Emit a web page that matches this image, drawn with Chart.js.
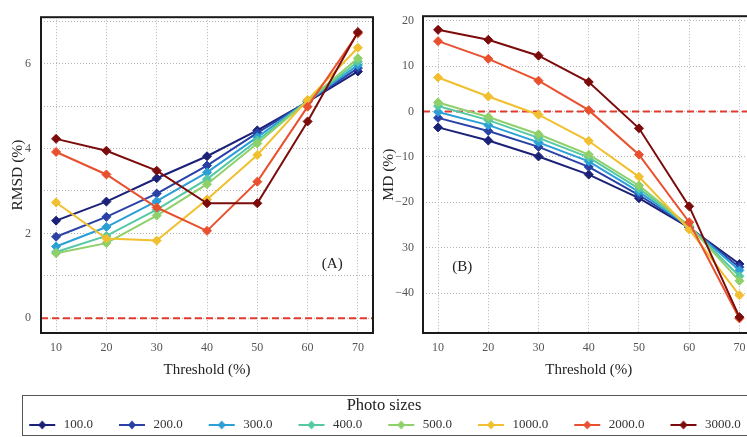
<!DOCTYPE html>
<html>
<head>
<meta charset="utf-8">
<script src="https://cdn.jsdelivr.net/npm/chart.js@4.4.1/dist/chart.umd.min.js"></script>
<style>
html,body{margin:0;padding:0;background:#fff;}
#wrap{position:relative;width:747px;height:437px;overflow:hidden;background:#fff;}
#c1{position:absolute;left:0;top:0;width:380px;height:390px;}
#c2{position:absolute;left:380px;top:0;width:380px;height:390px;}
#legbox{position:absolute;left:22px;top:395px;width:733px;height:41px;border:1px solid #555;box-sizing:border-box;}
#c3{position:absolute;left:-1px;top:395px;width:770px;height:110px;}
</style>
</head>
<body>
<div id="wrap">
<canvas id="c1" width="380" height="390"></canvas>
<canvas id="c2" width="380" height="390"></canvas>
<div id="legbox"></div>
<canvas id="c3" width="770" height="110"></canvas>
</div>
<script>
// ---------- data ----------
const thresholds = [10, 20, 30, 40, 50, 60, 70];
const photoSizes = ['100.0', '200.0', '300.0', '400.0', '500.0', '1000.0', '2000.0', '3000.0'];

// RMSD (%) per photo size
const rmsd100  = [2.30, 2.75, 3.30, 3.82, 4.43, 5.10, 5.82];
const rmsd200  = [1.92, 2.39, 2.94, 3.60, 4.37, 5.11, 5.90];
const rmsd300  = [1.69, 2.15, 2.76, 3.44, 4.27, 5.12, 5.97];
const rmsd400  = [1.56, 1.94, 2.56, 3.28, 4.19, 5.12, 6.05];
const rmsd500  = [1.53, 1.77, 2.42, 3.16, 4.12, 5.13, 6.13];
const rmsd1000 = [2.73, 1.88, 1.83, 2.80, 3.85, 5.15, 6.38];
const rmsd2000 = [3.92, 3.39, 2.61, 2.06, 3.22, 4.99, 6.72];
const rmsd3000 = [4.23, 3.95, 3.48, 2.71, 2.71, 4.64, 6.75];

// MD (%) per photo size
const md100  = [-3.5, -6.4, -9.9, -13.9, -19.1, -25.6, -33.6];
const md200  = [-1.4, -4.3, -7.8, -12.2, -18.4, -25.5, -34.3];
const md300  = [-0.1, -3.0, -6.8, -11.0, -17.7, -25.4, -35.0];
const md400  = [1.2, -1.9, -5.8, -10.1, -17.0, -25.3, -36.3];
const md500  = [2.0, -1.2, -5.0, -9.5, -16.3, -25.2, -37.3];
const md1000 = [7.5, 3.3, -0.7, -6.5, -14.4, -26.0, -40.5];
const md2000 = [15.5, 11.6, 6.8, 0.3, -9.5, -24.4, -45.6];
const md3000 = [18.0, 15.8, 12.3, 6.5, -3.7, -20.9, -45.3];

// tick labels
const xTickLabels = ['10', '20', '30', '40', '50', '60', '70'];
const leftYTickValues = [0, 2, 4, 6];
const leftYTickLabels = ['0', '2', '4', '6'];
const rightYTickValues = [-40, -30, -20, -10, 0, 10, 20];
const rightYTickLabels = ['\u221240', '30', '\u221220', '\u221210', '0', '10', '20'];

const rmsdSeries = [rmsd100, rmsd200, rmsd300, rmsd400, rmsd500, rmsd1000, rmsd2000, rmsd3000];
const mdSeries = [md100, md200, md300, md400, md500, md1000, md2000, md3000];

// ---------- styles ----------
const colors = ['#1c2178', '#2a42a6', '#2b9fd6', '#55c8a4', '#8fd06a', '#f1bf2f', '#e8502e', '#7c0b0b'];
const SERIF = '"Liberation Serif", "DejaVu Serif", serif';

const framePlugin = {
  id: 'frame',
  afterDraw(chart) {
    const {ctx, chartArea: a} = chart;
    ctx.save();
    ctx.strokeStyle = '#1a1a1a';
    ctx.lineWidth = 2;
    ctx.strokeRect(a.left, a.top, a.right - a.left, a.bottom - a.top);
    ctx.restore();
  }
};
const zeroLinePlugin = {
  id: 'zeroLine',
  beforeDatasetsDraw(chart) {
    const {ctx, chartArea: a} = chart;
    const y = chart.scales.y.getPixelForValue(0);
    ctx.save();
    ctx.strokeStyle = '#e23a2e';
    ctx.lineWidth = 2;
    ctx.setLineDash([7, 4]);
    ctx.beginPath();
    ctx.moveTo(a.left, y);
    ctx.lineTo(a.right, y);
    ctx.stroke();
    ctx.restore();
  }
};
const tagPlugin = {
  id: 'panelTag',
  afterDatasetsDraw(chart, args, opts) {
    if (!opts || !opts.text) return;
    const {ctx} = chart;
    const x = chart.scales.x.getPixelForValue(opts.x);
    const y = chart.scales.y.getPixelForValue(opts.y);
    ctx.save();
    ctx.font = '15px ' + SERIF;
    ctx.fillStyle = '#222';
    ctx.textAlign = 'center';
    ctx.textBaseline = 'middle';
    ctx.fillText(opts.text, x, y);
    ctx.restore();
  }
};

function makeDatasets(seriesList) {
  const n = seriesList.length;
  return seriesList.map((vals, i) => ({
    label: photoSizes[i],
    data: thresholds.map((t, k) => ({x: t, y: vals[k]})),
    borderColor: colors[i],
    backgroundColor: colors[i],
    borderWidth: 2,
    pointStyle: 'rectRot',
    pointRadius: 4.5,
    pointBorderWidth: 1,
    pointBackgroundColor: colors[i],
    pointBorderColor: colors[i],
    tension: 0,
    order: n - i
  }));
}

function panel(canvasId, seriesList, o) {
  return new Chart(document.getElementById(canvasId), {
    type: 'line',
    data: {datasets: makeDatasets(seriesList)},
    options: {
      responsive: false,
      animation: false,
      events: [],
      layout: {padding: {top: 7, right: o.padRight, left: 0, bottom: 0}},
      plugins: {
        legend: {display: false},
        tooltip: {enabled: false},
        panelTag: {text: o.tag, x: o.tagX, y: o.tagY}
      },
      scales: {
        x: {
          type: 'linear',
          min: 7, max: 73,
          afterFit(s) { s.height = 57; },
          grid: {color: '#b5b5b5', lineWidth: 1, drawTicks: false},
          border: {display: false, dash: [1, 2]},
          ticks: {
            stepSize: 10, includeBounds: false, padding: 8,
            color: '#555', font: {family: SERIF, size: 12},
            maxRotation: 0,
            callback: v => { const k = thresholds.indexOf(v); return k >= 0 ? xTickLabels[k] : ''; }
          },
          title: {display: true, text: 'Threshold (%)', color: '#222',
                  font: {family: SERIF, size: 15}, padding: {top: 0, bottom: 11}}
        },
        y: {
          min: o.yMin, max: o.yMax,
          afterFit(s) { s.width = o.yWidth; },
          grid: {color: '#b5b5b5', lineWidth: 1, drawTicks: false},
          border: {display: false, dash: [1, 2]},
          ticks: {
            stepSize: o.yStep, includeBounds: false, padding: o.yTickPad,
            color: '#555', font: {family: SERIF, size: 12},
            callback: v => { const k = o.yTickValues.indexOf(Math.round(v * 1000) / 1000); return k >= 0 ? o.yTickLabels[k] : ''; }
          },
          title: {display: true, text: o.yTitle, color: '#222',
                  font: {family: SERIF, size: 15.5}, padding: {top: o.yTitlePad, bottom: 0}}
        }
      }
    },
    plugins: [zeroLinePlugin, tagPlugin, framePlugin]
  });
}

panel('c1', rmsdSeries, {
  yMin: -0.35, yMax: 7.1, yStep: 1, yTickValues: leftYTickValues, yTickLabels: leftYTickLabels,
  yTitle: 'RMSD (%)', yWidth: 41, yTickPad: 10, yTitlePad: 9, padRight: 7,
  tag: '(A)', tagX: 64.9, tagY: 1.28
});
panel('c2', mdSeries, {
  yMin: -48.8, yMax: 21.0, yStep: 10, yTickValues: rightYTickValues, yTickLabels: rightYTickLabels,
  yTitle: 'MD (%)', yWidth: 43, yTickPad: 9, yTitlePad: 0, padRight: 5,
  tag: '(B)', tagX: 14.8, tagY: -34.2
});

// ---------- legend ----------
function makeIcon(color) {
  const c = document.createElement('canvas');
  c.width = 30; c.height = 12;
  const g = c.getContext('2d');
  g.strokeStyle = color; g.lineWidth = 2;
  g.beginPath(); g.moveTo(2, 6); g.lineTo(28, 6); g.stroke();
  g.fillStyle = color;
  g.beginPath(); g.moveTo(15, 1.5); g.lineTo(19, 6); g.lineTo(15, 10.5); g.lineTo(11, 6); g.closePath(); g.fill();
  return c;
}
const legendIcons = colors.map(makeIcon);

new Chart(document.getElementById('c3'), {
  type: 'line',
  data: {datasets: photoSizes.map((s, i) => ({label: s, data: [], borderColor: colors[i], backgroundColor: colors[i]}))},
  options: {
    responsive: false,
    animation: false,
    events: [],
    layout: {padding: 0},
    scales: {x: {display: false}, y: {display: false}},
    plugins: {
      tooltip: {enabled: false},
      legend: {
        display: true,
        position: 'top',
        align: 'center',
        title: {display: true, text: 'Photo sizes', color: '#222',
                font: {family: SERIF, size: 16.5, lineHeight: 1},
                padding: {top: 2.75, bottom: -19.75}},
        labels: {
          usePointStyle: true,
          pointStyleWidth: 30,
          boxHeight: 12,
          padding: 24,
          color: '#333',
          font: {family: SERIF, size: 13},
          generateLabels: chart => chart.data.datasets.map((ds, i) => ({
            text: ds.label, pointStyle: legendIcons[i], fillStyle: ds.borderColor,
            strokeStyle: ds.borderColor, lineWidth: 0, hidden: false, datasetIndex: i, fontColor: '#333'
          }))
        }
      }
    }
  }
});
</script>
</body>
</html>
